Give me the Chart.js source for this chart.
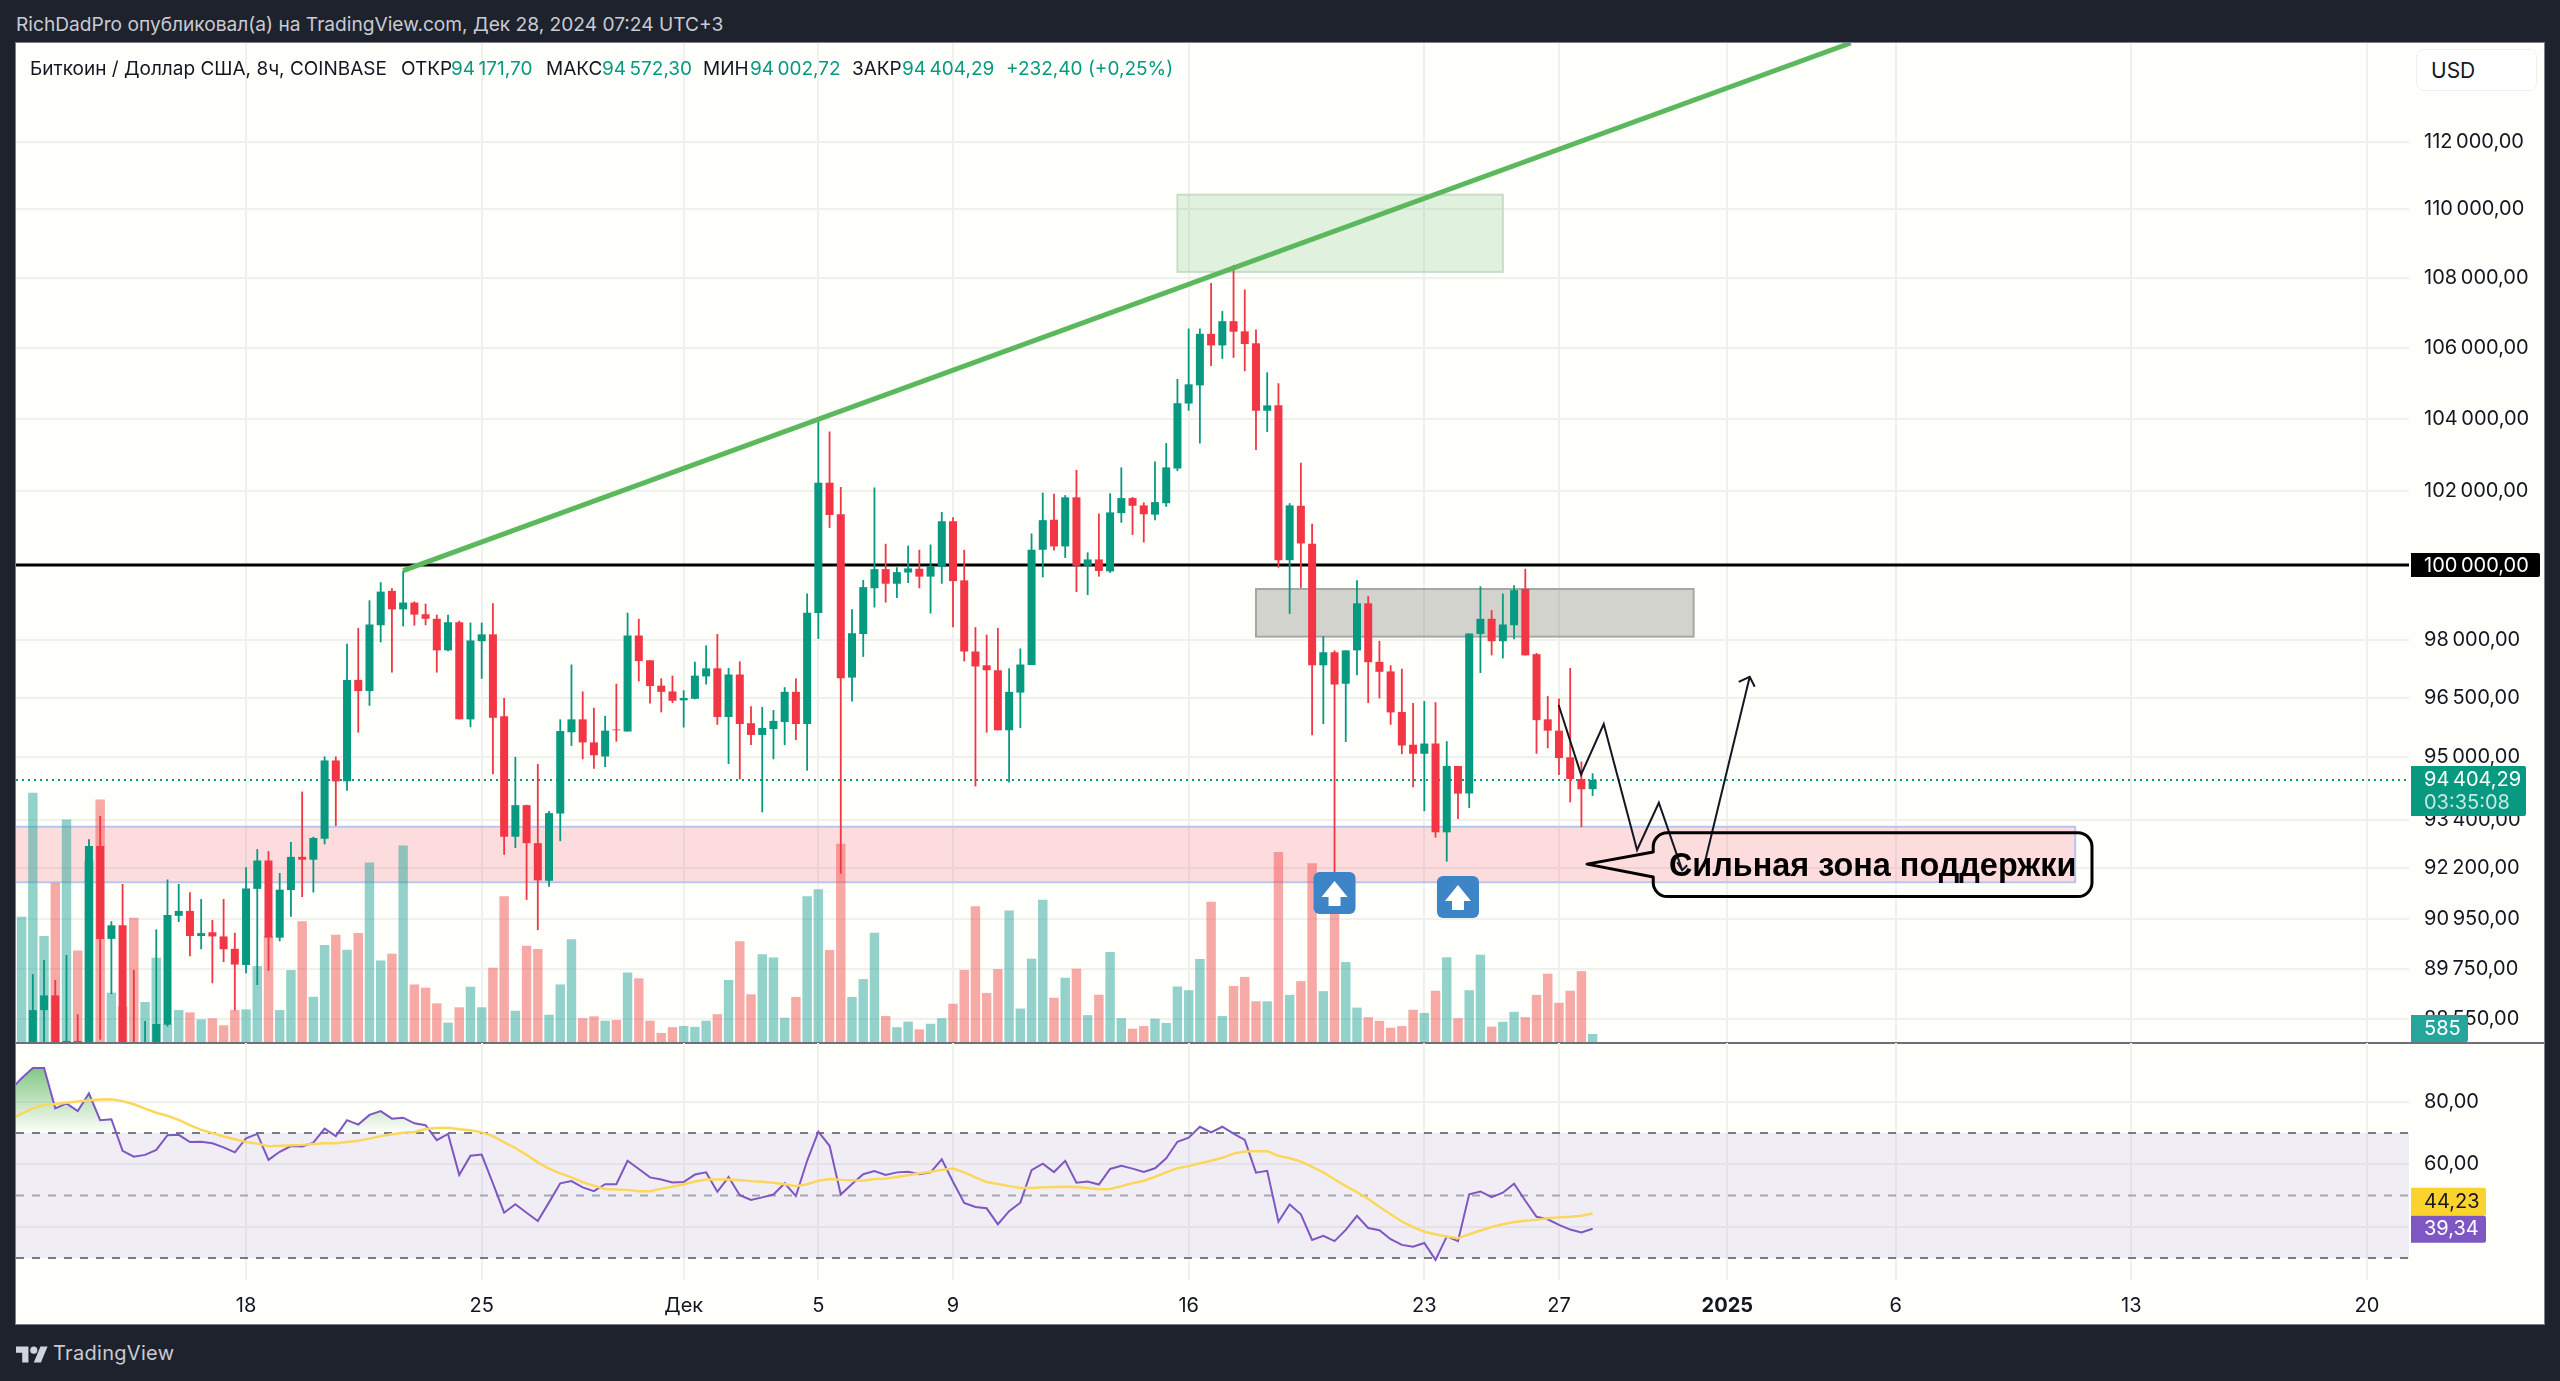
<!DOCTYPE html>
<html lang="ru">
<head>
<meta charset="utf-8">
<title>BTCUSD 8h</title>
<script src="https://cdn.jsdelivr.net/npm/chart.js@4"></script>
<style>
  html, body { margin: 0; padding: 0; background: #1e222d; width: 2560px; height: 1381px; overflow: hidden; }
  body { font-family: Inter, "Noto Sans", sans-serif; position: relative; }
  #pane { position: absolute; left: 16px; top: 43px; width: 2528px; height: 1281px; background: #fefefb; box-shadow: 0 0 0 1px #7d808a; }
  #priceChart { position: absolute; left: 16px; top: 43px; }
  #rsiChart { position: absolute; left: 16px; top: 1043px; }
  #divider { position: absolute; left: 16px; top: 1042px; width: 2528px; height: 2px; background: #6d7079; }
  .txt { position: absolute; white-space: nowrap; line-height: 1; }
  #published { left: 16px; top: 15px; font-size: 19.15px; color: #c8cbd3; }
  #legend span { position: absolute; top: 59px; font-size: 19px; line-height: 1; white-space: nowrap; color: #131722; }
  #legend .v { color: #089981; }
  #usdBox { position: absolute; left: 2416px; top: 49px; width: 119px; height: 40px; border: 1px solid #f0f1ee; border-radius: 8px; background: #fff; }
  #usd { left: 2431px; top: 60px; font-size: 21px; color: #131722; }
  #logo { position: absolute; left: 16px; top: 1343px; width: 32px; height: 25px; }
  #brand { left: 53px; top: 1343px; font-size: 20px; letter-spacing: 0.3px; color: #c8cbd3; }
</style>
</head>
<body>
<div id="pane"></div>
<div id="divider"></div>
<canvas id="priceChart" width="2528" height="999"></canvas>
<canvas id="rsiChart" width="2528" height="281"></canvas>
<div class="txt" id="published">RichDadPro опубликовал(а) на TradingView.com, Дек 28, 2024 07:24 UTC+3</div>
<div id="legend">
  <span style="left:30px">Биткоин / Доллар США, 8ч, COINBASE</span>
  <span style="left:401px">ОТКР</span><span class="v" style="left:451px">94&#8201;171,70</span>
  <span style="left:546px">МАКС</span><span class="v" style="left:602px">94&#8201;572,30</span>
  <span style="left:703px">МИН</span><span class="v" style="left:750px">94&#8201;002,72</span>
  <span style="left:852px">ЗАКР</span><span class="v" style="left:902px">94&#8201;404,29</span>
  <span class="v" style="left:1006px">+232,40 (+0,25%)</span>
</div>
<div id="usdBox"></div>
<div class="txt" id="usd">USD</div>
<svg id="logo" viewBox="0 0 36 28"><path fill="#d1d4dc" d="M14 22H7V11H0V4h14v18zM28 22h-8l7.5-18h8L28 22z"/><circle fill="#d1d4dc" cx="20" cy="8" r="4"/></svg>
<div class="txt" id="brand">TradingView</div>

<script>
// candles, one per 8h bar. bars 0-12 partly fall under the bottom of the pane
var opens = [
  87200, 87700, 88760, 89110, 87800, 88030, 87900, 92750, 90470, 90800,
  87900, 87700, 87900, 88410, 91030, 91150, 90540, 90630, 90530, 90230,
  89840, 91690, 92390, 90500, 91660, 92480, 92410, 92930, 94900, 94370,
  96970, 96680, 98400, 99310, 98820, 99000, 98690, 98570, 97740, 98480,
  95950, 97980, 98160, 96030, 92980, 93770, 92820, 91890, 93560, 95620,
  95950, 95360, 95000, 95690, 95640, 98130, 97480, 96820, 96670, 96440,
  96480, 97060, 97270, 96010, 97110, 95850, 95550, 95700, 95880, 96660,
  95830, 98720, 102230, 101370, 97030, 98170, 99380, 99890, 99500, 99800,
  99900, 99690, 99950, 101180, 99590, 97710, 97350, 97220, 95670, 96640,
  97360, 100410, 101220, 100500, 101830, 99980, 100150, 99830, 101400, 101810,
  101610, 101360, 101670, 102620, 104420, 104930, 106390, 106060, 106750, 106460,
  106120, 104220, 104370, 100130, 101600, 100570, 97350, 97690, 96870, 97740,
  98980, 97440, 97190, 96140, 95300, 95070, 95330, 93090, 94760, 94060,
  98170, 98570, 97980, 98400, 99360, 97640, 95950, 95660, 94980, 94430,
  94171.70
];
var highs = [
  87900, 89620, 89960, 89480, 90080, 88660, 92920, 93500, 90900, 91810,
  89720, 88500, 90700, 91920, 91810, 91610, 91440, 90930, 91440, 90620,
  92220, 92670, 92620, 92080, 92850, 94110, 92980, 95000, 95000, 97910,
  98330, 99060, 99540, 99380, 99850, 99030, 98970, 98680, 98680, 98520,
  98470, 98470, 98980, 96500, 94990, 93780, 94810, 93620, 95950, 97370,
  96670, 96250, 96040, 96870, 98730, 98570, 97490, 97010, 97080, 96700,
  97440, 97870, 98170, 97280, 97450, 96290, 96270, 96190, 96780, 97010,
  99240, 103990, 103640, 102110, 98820, 99600, 102100, 100570, 99940, 100520,
  100410, 100550, 101430, 101290, 100410, 98350, 98150, 98330, 97270, 97790,
  100850, 101960, 101930, 101890, 102580, 100340, 101390, 101940, 102650, 101840,
  101690, 102810, 103320, 105110, 106540, 106540, 107850, 107040, 108370, 107660,
  106510, 105300, 104990, 101670, 102780, 101110, 98110, 97740, 97740, 99590,
  99170, 97990, 97350, 97260, 96370, 96420, 96390, 95390, 94760, 98180,
  99430, 98800, 99240, 99460, 99900, 97670, 96550, 96490, 97280, 94870,
  94572.30
];
var lows = [
  87000, 87400, 87800, 87300, 87400, 87400, 87500, 88060, 89140, 87500,
  87400, 87400, 87500, 88370, 90880, 90050, 90220, 89400, 89910, 88750,
  89640, 89360, 89700, 90410, 91010, 91490, 91600, 92790, 93250, 94130,
  95610, 96300, 97950, 97160, 98370, 98390, 98400, 97160, 97720, 95950,
  95750, 97000, 94550, 92530, 92700, 91420, 90680, 91740, 92870, 95270,
  94930, 94690, 94730, 95380, 95640, 96930, 96360, 96130, 96370, 95740,
  96470, 96850, 95810, 94810, 94420, 95290, 93590, 94930, 95290, 95420,
  94640, 98040, 101000, 92060, 96410, 97570, 98870, 99000, 99120, 99520,
  99380, 98710, 99500, 98350, 97450, 94240, 95610, 95670, 94340, 95730,
  97360, 99670, 100390, 100190, 99280, 99200, 99690, 99790, 101140, 100810,
  100610, 101210, 101570, 102550, 104220, 103310, 105480, 105680, 105710, 105330,
  103130, 103630, 99930, 98700, 99390, 95540, 95830, 91700, 95370, 97090,
  96370, 96490, 95810, 95060, 94220, 93620, 92960, 92360, 93420, 93700,
  97150, 97610, 97530, 98030, 97610, 95070, 95210, 94530, 93840, 93220,
  94002.72
];
var closes = [
  87500, 88760, 89110, 87600, 88030, 87800, 92750, 90470, 90800, 87900,
  87700, 87900, 88430, 91050, 91150, 90540, 90610, 90530, 90220, 89850,
  91700, 92390, 90500, 91670, 92480, 92410, 92950, 94900, 94370, 96970,
  96680, 98420, 99290, 98820, 99000, 98680, 98570, 97740, 98480, 95950,
  98000, 98160, 95990, 92980, 93770, 92820, 91900, 93570, 95650, 95950,
  95360, 95030, 95660, 95670, 98130, 97460, 96810, 96660, 96430, 96500,
  97080, 97270, 96010, 97110, 95830, 95550, 95730, 95910, 96660, 95830,
  98730, 102230, 101350, 97010, 98190, 99410, 99890, 99500, 99810, 99910,
  99690, 99960, 101180, 99570, 97710, 97320, 97220, 95670, 96660, 97370,
  100410, 101210, 100500, 101830, 99980, 100150, 99840, 101420, 101810, 101600,
  101370, 101700, 102650, 104430, 104960, 106390, 106060, 106750, 106450, 106100,
  104220, 104370, 100130, 101610, 100580, 97350, 97690, 96850, 97740, 98980,
  97430, 97180, 96130, 95280, 95070, 95330, 93090, 94760, 94060, 98180,
  98570, 97980, 98420, 99330, 97610, 95930, 95660, 94960, 94430, 94170,
  94404.29
];
var volumes = [
  9140, 18180, 7730, 11620, 16230, 6680, 13220, 17690, 3600, 2600,
  9060, 2920, 6150, 1290, 2330, 2160, 1650, 1730, 1220, 2330,
  2380, 5540, 7730, 2330, 5250, 8820, 3300, 7070, 7820, 6730,
  7950, 13100, 5950, 6440, 14340, 4200, 3960, 2820, 1410, 2530,
  4030, 2530, 5420, 10640, 2280, 7020, 6780, 1990, 4200, 7500,
  1740, 1870, 1550, 1610, 5070, 4650, 1550, 660, 1080, 1170,
  1110, 1550, 2030, 4530, 7350, 3480, 6400, 6170, 1770, 3290,
  10640, 11140, 6710, 14470, 3290, 4590, 7980, 1900, 1080, 1490,
  920, 1330, 1740, 2790, 5260, 9910, 3580, 5320, 9590, 2440,
  6080, 10380, 3230, 4690, 5350, 1960, 3450, 6560, 1740, 970,
  1160, 1700, 1390, 4050, 3780, 6060, 10230, 1890, 4090, 4750,
  2970, 2970, 13860, 3440, 4440, 13050, 3710, 10000, 5830, 2510,
  1810, 1540, 1040, 1160, 2350, 2120, 3740, 6180, 1740, 3780,
  6370, 1120, 1470, 2200, 1810, 3440, 4980, 2860, 3740, 5170,
  585
];

// rsi and its average start one bar earlier, at bar -1
var rsiValues = [
  83.8, 87.5, 90.8, 90.8, 77.9, 79.5, 77.0, 82.7, 74.1, 74.4, 64.3,
  62.4, 63.0, 64.6, 69.3, 69.4, 67.1, 67.2, 66.7, 65.4, 63.8,
  68.3, 69.7, 61.4, 64.0, 65.8, 65.7, 66.9, 71.4, 69.0, 74.1,
  72.7, 75.8, 77.0, 74.6, 74.9, 73.1, 72.5, 67.7, 69.7, 56.6,
  62.7, 63.1, 53.9, 44.5, 47.2, 44.5, 41.8, 47.8, 53.9, 54.6,
  52.6, 51.4, 53.6, 53.6, 61.1, 58.5, 55.8, 55.1, 54.2, 54.3,
  56.7, 57.4, 51.2, 55.9, 50.1, 48.6, 49.4, 50.3, 53.9, 49.8,
  61.1, 70.4, 65.9, 50.3, 53.7, 56.8, 57.8, 56.6, 57.4, 57.6,
  56.8, 57.4, 61.6, 54.4, 47.6, 46.3, 45.9, 40.8, 45.0, 47.7,
  58.1, 60.2, 57.5, 61.1, 54.1, 54.5, 53.5, 58.5, 59.5, 58.6,
  57.5, 58.7, 61.9, 67.2, 68.5, 72.0, 70.2, 72.0, 69.8, 67.8,
  57.3, 57.9, 41.6, 47.1, 44.0, 35.8, 37.1, 35.4, 39.0, 43.5,
  39.6, 38.9, 36.0, 34.2, 33.6, 34.8, 29.4, 36.9, 35.4, 50.4,
  51.3, 49.5, 50.9, 53.8, 48.3, 43.2, 42.4, 40.6, 39.1, 38.2,
  39.34
];
var rsiMaValues = [
  74.2, 76.3, 77.9, 79.0, 79.3, 79.7, 80.1, 80.5, 80.7, 80.8, 80.2,
  79.2, 77.8, 76.5, 75.5, 74.2, 72.5, 71.0, 70.0, 68.9, 68.0,
  67.1, 66.6, 65.8, 65.9, 66.1, 66.2, 66.5, 66.7, 66.7, 67.1,
  67.5, 68.2, 69.0, 69.6, 70.1, 70.3, 71.3, 71.6, 71.7, 71.2,
  70.9, 70.2, 69.0, 67.0, 65.2, 63.0, 60.6, 58.6, 57.1, 55.8,
  54.3, 53.1, 52.1, 51.9, 51.8, 51.4, 51.4, 52.2, 52.8, 53.6,
  54.5, 55.1, 55.1, 55.1, 54.9, 54.6, 54.4, 54.1, 53.6, 53.0,
  53.6, 54.7, 55.3, 55.0, 54.9, 54.7, 55.3, 55.4, 55.9, 56.5,
  57.1, 57.6, 58.2, 58.6, 57.4, 55.8, 54.3, 53.7, 53.0, 52.4,
  52.4, 52.6, 52.7, 52.8, 52.7, 52.4, 52.0, 52.1, 53.0, 53.9,
  54.7, 56.0, 57.4, 58.7, 59.4, 60.3, 61.1, 62.1, 63.4, 64.1,
  64.2, 64.2, 62.7, 61.9, 60.9, 59.2, 57.4, 55.2, 53.0, 51.1,
  48.9, 46.4, 44.0, 41.7, 39.9, 38.4, 37.6, 36.9, 36.3, 37.6,
  38.8, 39.9, 40.8, 41.5, 41.9, 42.2, 42.7, 43.0, 43.2, 43.5,
  44.23
];

// axis ticks
var priceTicks = [112000, 110000, 108000, 106000, 104000, 102000, 100000, 98000, 96500, 95000, 93400, 92200, 90950, 89750, 88550];
var rsiTicks = [80, 60, 40];
var rsiLevels = [70, 50, 30];
var timeLabels = ["18", "25", "Дек", "5", "9", "16", "23", "27", "2025", "6", "13", "20"];
var timeBars = [20, 41, 59, 71, 83, 104, 125, 137, 152, 167, 188, 209];

// things drawn by hand on the chart, in bars and prices
var trendBars = [34, 163];
var trendPrices = [99850, 115010];
var pathBars = [136.97, 138.97, 140.99, 143.96, 145.9, 147.98];
var pathPrices = [96320, 94540, 95830, 92650, 93830, 92150];
var upBars = [149.9, 154];
var upPrices = [92230, 97050];
var flagBars = [117, 128];
var flagPrices = [91590, 91490];
var lastPrice = 94404.29;
var roundPrice = 100000;

var XMIN = -0.5, XMAX = 212.75;
var GREEN = "#089981", RED = "#f23645", GRID = "#f0f1ee";

function money(v) {
  var parts = v.toFixed(2).split(".");
  return parts[0].replace(/\B(?=(\d{3})+$)/g, "\u2009") + "," + parts[1];
}

function candleColor(i) {
  return closes[i] >= opens[i] ? GREEN : RED;
}

function rect(ctx, x, y, w, h, r) {
  ctx.beginPath();
  ctx.roundRect(x, y, w, h, r);
}

function tag(ctx, x, y, w, h, fill) {
  ctx.fillStyle = fill;
  rect(ctx, x, y, w, h, [0, 2, 2, 0]);
  ctx.fill();
}

function zones(chart) {
  var ctx = chart.ctx, xs = chart.scales.x, ys = chart.scales.y;
  ctx.save();
  // support zone
  var x0 = xs.getPixelForValue(XMIN), x1 = xs.getPixelForValue(183);
  var y0 = ys.getPixelForValue(93230), y1 = ys.getPixelForValue(91850);
  ctx.fillStyle = "rgba(242,54,69,0.17)";
  ctx.fillRect(x0, y0, x1 - x0, y1 - y0);
  ctx.strokeStyle = "#b7c5f1";
  ctx.lineWidth = 2;
  ctx.beginPath();
  ctx.moveTo(x0, y0); ctx.lineTo(x1, y0); ctx.lineTo(x1, y1); ctx.lineTo(x0, y1);
  ctx.stroke();
  // resistance target
  x0 = xs.getPixelForValue(103); x1 = xs.getPixelForValue(132);
  y0 = ys.getPixelForValue(110430); y1 = ys.getPixelForValue(108170);
  ctx.fillStyle = "rgba(76,175,80,0.17)";
  ctx.fillRect(x0, y0, x1 - x0, y1 - y0);
  ctx.strokeStyle = "#c4dfc5";
  ctx.strokeRect(x0, y0, x1 - x0, y1 - y0);
  // grey box
  x0 = xs.getPixelForValue(110); x1 = xs.getPixelForValue(149);
  y0 = ys.getPixelForValue(99360); y1 = ys.getPixelForValue(98100);
  ctx.fillStyle = "rgba(120,123,112,0.33)";
  ctx.fillRect(x0, y0, x1 - x0, y1 - y0);
  ctx.strokeStyle = "#a6a7a3";
  ctx.strokeRect(x0, y0, x1 - x0, y1 - y0);
  ctx.restore();
}

function arrowHead(ctx, x, y, ax, ay, bx, by) {
  ctx.beginPath();
  ctx.moveTo(x + ax, y + ay);
  ctx.lineTo(x, y);
  ctx.lineTo(x + bx, y + by);
  ctx.stroke();
}

function flag(ctx, cx, cy) {
  ctx.fillStyle = "#3d85c6";
  rect(ctx, cx - 21, cy - 21, 42, 42, 6);
  ctx.fill();
  ctx.fillStyle = "#fff";
  ctx.beginPath();
  ctx.moveTo(cx, cy - 12);
  ctx.lineTo(cx + 13, cy + 4);
  ctx.lineTo(cx + 6, cy + 4);
  ctx.lineTo(cx + 6, cy + 13);
  ctx.lineTo(cx - 6, cy + 13);
  ctx.lineTo(cx - 6, cy + 4);
  ctx.lineTo(cx - 13, cy + 4);
  ctx.closePath();
  ctx.fill();
}

function callout(chart) {
  var ctx = chart.ctx, xs = chart.scales.x, ys = chart.scales.y;
  var l = xs.getPixelForValue(145.4), r = xs.getPixelForValue(184.5);
  var t = ys.getPixelForValue(93080), b = ys.getPixelForValue(91500);
  var tipX = xs.getPixelForValue(139.5), tipY = ys.getPixelForValue(92300);
  var b1 = ys.getPixelForValue(92600), b2 = ys.getPixelForValue(91980);
  var rad = 14;
  ctx.save();
  ctx.strokeStyle = "#000";
  ctx.lineWidth = 3;
  ctx.lineJoin = "round";
  ctx.beginPath();
  ctx.moveTo(l + rad, t);
  ctx.lineTo(r - rad, t);
  ctx.arcTo(r, t, r, t + rad, rad);
  ctx.lineTo(r, b - rad);
  ctx.arcTo(r, b, r - rad, b, rad);
  ctx.lineTo(l + rad, b);
  ctx.arcTo(l, b, l, b - rad, rad);
  ctx.lineTo(l, b2);
  ctx.lineTo(tipX, tipY);
  ctx.lineTo(l, b1);
  ctx.lineTo(l, t + rad);
  ctx.arcTo(l, t, l + rad, t, rad);
  ctx.closePath();
  ctx.stroke();
  ctx.fillStyle = "#000";
  ctx.font = "bold 32.4px 'Liberation Sans', Arial, sans-serif";
  ctx.textAlign = "center";
  ctx.textBaseline = "middle";
  ctx.fillText("Сильная зона поддержки", xs.getPixelForValue(164.95), ys.getPixelForValue(92230));
  ctx.restore();
}

var drawings = {
  id: "drawings",
  beforeDatasetsDraw: function (chart) {
    zones(chart);
  },
  afterDatasetsDraw: function (chart) {
    var ctx = chart.ctx, xs = chart.scales.x, ys = chart.scales.y;
    var left = chart.chartArea.right + 2;
    ctx.save();

    ctx.strokeStyle = "#131722";
    ctx.lineWidth = 2;
    arrowHead(ctx, xs.getPixelForValue(pathBars[5]), ys.getPixelForValue(pathPrices[5]), -5, -8, 5, -5);
    arrowHead(ctx, xs.getPixelForValue(upBars[1]), ys.getPixelForValue(upPrices[1]), -11, 5, 5, 10);
    ctx.restore();

    callout(chart);

    for (var i = 0; i < flagBars.length; i++) {
      flag(ctx, xs.getPixelForValue(flagBars[i]), ys.getPixelForValue(flagPrices[i]));
    }

    ctx.save();
    ctx.font = "20px Inter, sans-serif";
    ctx.textBaseline = "middle";
    // round number tag
    var py = ys.getPixelForValue(roundPrice);
    tag(ctx, left, py - 12, 129, 24, "#000");
    ctx.fillStyle = "#fff";
    ctx.fillText(money(roundPrice), left + 13, py + 1);
    // last price tag
    py = ys.getPixelForValue(lastPrice);
    tag(ctx, left, py - 14, 115, 50, GREEN);
    ctx.fillStyle = "#fff";
    ctx.fillText(money(lastPrice), left + 13, py);
    ctx.fillStyle = "#c4e9e2";
    ctx.fillText("03:35:08", left + 13, py + 23);
    // volume tag
    tag(ctx, left, chart.chartArea.bottom - 27, 57, 27, "#26a69a");
    ctx.fillStyle = "#fff";
    ctx.fillText(String(volumes[volumes.length - 1]), left + 13, chart.chartArea.bottom - 13);
    ctx.restore();
  }
};

var rsiDrawings = {
  id: "rsiDrawings",
  beforeDatasetsDraw: function (chart) {
    var ctx = chart.ctx, ys = chart.scales.y, area = chart.chartArea;
    var top = ys.getPixelForValue(rsiLevels[0]), bottom = ys.getPixelForValue(rsiLevels[2]);
    ctx.save();
    ctx.fillStyle = "rgba(126,87,194,0.1)";
    ctx.fillRect(area.left, top, area.right - area.left, bottom - top);
    ctx.restore();
  },
  afterDatasetsDraw: function (chart) {
    var ctx = chart.ctx, ys = chart.scales.y, left = chart.chartArea.right + 2;
    var ma = rsiMaValues[rsiMaValues.length - 1], rsi = rsiValues[rsiValues.length - 1];
    var rsiY = ys.getPixelForValue(rsi);
    ctx.save();
    ctx.font = "20px Inter, sans-serif";
    ctx.textBaseline = "middle";
    // the two tags would overlap, so the average sits on top of the rsi tag
    tag(ctx, left, rsiY - 41, 75, 28, "#fbd32f");
    ctx.fillStyle = "#131722";
    ctx.fillText(ma.toFixed(2).replace(".", ","), left + 13, rsiY - 27);
    tag(ctx, left, rsiY - 13, 75, 27, "#7e57c2");
    ctx.fillStyle = "#fff";
    ctx.fillText(rsi.toFixed(2).replace(".", ","), left + 13, rsiY);
    ctx.restore();
  }
};

function lineSet(xs, ys, color, width, order, dash) {
  return {
    type: "line",
    data: xs.map(function (x, i) { return { x: x, y: ys[i] }; }),
    borderColor: color,
    borderWidth: width,
    borderDash: dash || [],
    pointRadius: 0,
    tension: 0,
    fill: false,
    order: order
  };
}

function timeAxis(showLabels) {
  return {
    type: "linear",
    min: XMIN,
    max: XMAX,
    offset: false,
    grid: { color: GRID, lineWidth: 2, drawTicks: false, offset: false },
    border: { display: false },
    ticks: {
      display: showLabels,
      autoSkip: false,
      maxRotation: 0,
      color: "#131722",
      padding: 14,
      font: function (c) {
        return { family: "Inter", size: 20, weight: c.tick && c.tick.value === 152 ? "bold" : "normal" };
      },
      callback: function (v) {
        return timeLabels[timeBars.indexOf(v)];
      }
    },
    afterBuildTicks: function (scale) {
      scale.ticks = timeBars.map(function (b) { return { value: b }; });
    },
    afterFit: function (scale) {
      scale.height = showLabels ? 44 : 0;
      scale.paddingLeft = 0;
      scale.paddingRight = 0;
    }
  };
}

function sideAxis(fit) {
  fit.position = "right";
  fit.bounds = "data";
  fit.beginAtZero = false;
  fit.grid = { color: GRID, lineWidth: 2, drawTicks: false };
  fit.border = { display: false };
  fit.afterFit = function (scale) {
    scale.width = 135;
    scale.paddingTop = 0;
    scale.paddingBottom = 0;
  };
  return fit;
}

var bars = opens.map(function (o, i) { return i; });

new Chart(document.getElementById("priceChart"), {
  type: "bar",
  data: {
    datasets: [
      {
        data: volumes.map(function (v, i) { return { x: i, y: v }; }),
        yAxisID: "vol",
        grouped: false,
        barPercentage: 1,
        categoryPercentage: 1,
        maxBarThickness: 9.4,
        inflateAmount: 0,
        backgroundColor: bars.map(function (i) {
          return closes[i] >= opens[i] ? "rgba(38,166,154,0.5)" : "rgba(239,83,80,0.5)";
        }),
        order: 9
      },
      lineSet([XMIN, XMAX], [roundPrice, roundPrice], "#000", 3, 8),
      lineSet([XMIN, XMAX], [lastPrice, lastPrice], GREEN, 2, 7, [2, 4]),
      {
        data: bars.map(function (i) { return { x: i, y: [lows[i], highs[i]] }; }),
        grouped: false,
        barPercentage: 1,
        categoryPercentage: 1,
        maxBarThickness: 1.8,
        inflateAmount: 0,
        backgroundColor: bars.map(candleColor),
        order: 6
      },
      {
        data: bars.map(function (i) { return { x: i, y: [opens[i], closes[i]] }; }),
        grouped: false,
        barPercentage: 1,
        categoryPercentage: 1,
        maxBarThickness: 8,
        inflateAmount: 0,
        backgroundColor: bars.map(candleColor),
        order: 5
      },
      lineSet(trendBars, trendPrices, "#5cb85c", 5, 3),
      lineSet(pathBars, pathPrices, "#131722", 2, 2),
      lineSet(upBars, upPrices, "#131722", 2, 2)
    ]
  },
  options: {
    responsive: false,
    animation: false,
    devicePixelRatio: 1,
    events: [],
    layout: { padding: 0 },
    plugins: { legend: { display: false }, tooltip: { enabled: false } },
    scales: {
      x: timeAxis(false),
      y: sideAxis({
        type: "logarithmic",
        min: 88005,
        max: 115010,
        ticks: {
          autoSkip: false,
          crossAlign: "near",
          padding: 15,
          color: "#131722",
          font: { family: "Inter", size: 20 },
          callback: function (v) { return money(v); }
        },
        afterBuildTicks: function (scale) {
          scale.ticks = priceTicks.map(function (v) { return { value: v }; });
        }
      }),
      vol: { type: "linear", display: false, min: 0, max: 72900, position: "right" }
    }
  },
  plugins: [drawings]
});

var rsiCanvas = document.getElementById("rsiChart");
var overbought = rsiCanvas.getContext("2d").createLinearGradient(0, 20, 0, 90);
overbought.addColorStop(0, "rgba(76,175,80,0.75)");
overbought.addColorStop(1, "rgba(76,175,80,0)");

var rsiSet = lineSet(rsiValues.map(function (v, i) { return i - 1; }), rsiValues, "#7e57c2", 2, 2);
rsiSet.fill = { value: rsiLevels[0], above: overbought, below: "rgba(0,0,0,0)" };

new Chart(rsiCanvas, {
  type: "line",
  data: {
    datasets: [
      lineSet([XMIN, XMAX], [rsiLevels[0], rsiLevels[0]], "#787b86", 2, 5, [8, 8]),
      lineSet([XMIN, XMAX], [rsiLevels[1], rsiLevels[1]], "#a6a7b0", 2, 5, [8, 8]),
      lineSet([XMIN, XMAX], [rsiLevels[2], rsiLevels[2]], "#787b86", 2, 5, [8, 8]),
      rsiSet,
      lineSet(rsiMaValues.map(function (v, i) { return i - 1; }), rsiMaValues, "#fbd75b", 2.5, 1)
    ]
  },
  options: {
    responsive: false,
    animation: false,
    devicePixelRatio: 1,
    events: [],
    layout: { padding: 0 },
    plugins: { legend: { display: false }, tooltip: { enabled: false } },
    scales: {
      x: timeAxis(true),
      y: sideAxis({
        type: "linear",
        min: 22.96,
        max: 98.8,
        ticks: {
          autoSkip: false,
          crossAlign: "near",
          padding: 15,
          color: "#131722",
          font: { family: "Inter", size: 20 },
          callback: function (v) { return v.toFixed(2).replace(".", ","); }
        },
        afterBuildTicks: function (scale) {
          scale.ticks = rsiTicks.map(function (v) { return { value: v }; });
        }
      })
    }
  },
  plugins: [rsiDrawings]
});
</script>
</body>
</html>
